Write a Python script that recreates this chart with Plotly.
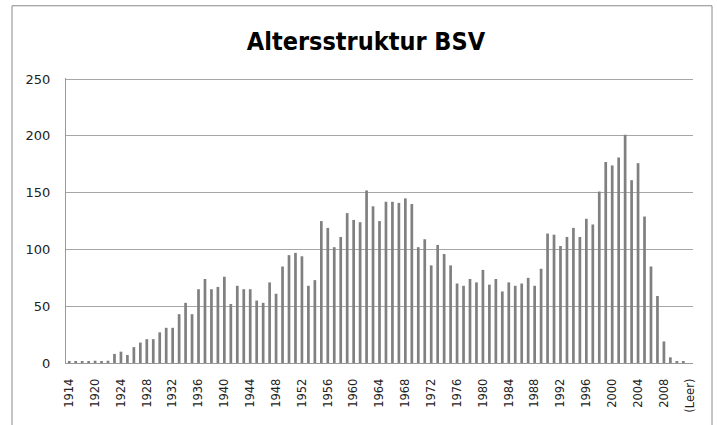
import plotly.graph_objects as go

categories = ["1914", "1915", "1916", "1918"] + [str(y) for y in range(1920, 2012)] + ["(Leer)"]

counts = [
    1, 1, 1, 1,
    2, 1, 2, 8, 10, 7, 14, 18, 21, 21, 27, 31, 31, 43, 53, 43,
    65, 74, 65, 67, 76, 52, 68, 65, 65, 55, 53, 71, 61,
    85, 95, 97, 94, 68, 73, 125, 119, 102, 111, 132, 126, 124, 152, 138, 125,
    142, 142, 141, 145, 140, 102, 109, 86, 104, 96, 86, 70, 68, 74, 71, 82, 69, 74,
    63, 71, 68, 70, 75, 68, 83, 114, 113, 103, 111, 119, 111, 127, 122, 151,
    177, 174, 181, 201, 161, 176, 129, 85, 59, 19, 5, 1, 1,
    0,
]

tick_labels = categories[::4]
y_ticks = [0, 50, 100, 150, 200, 250]

title_text = "Altersstruktur BSV"

fig = go.Figure(
    go.Bar(
        x=categories,
        y=counts,
        marker=dict(color="#808080", line=dict(width=0)),
    )
)

W, H = 717, 425
L, R, T, B = 66, 24, 78, 59
pw = W - L - R
ph = H - T - B

fig.update_layout(
    width=W,
    height=H,
    margin=dict(l=L, r=R, t=T, b=B),
    paper_bgcolor="white",
    plot_bgcolor="white",
    bargap=0.58,
    showlegend=False,
    title=dict(
        text="<b>" + title_text + "</b>",
        font=dict(family="Liberation Sans Narrow, DejaVu Sans Condensed, DejaVu Sans", size=25, color="black"),
        xref="container",
        x=366 / W,
        xanchor="center",
        yref="container",
        y=1 - 41 / H,
        yanchor="middle",
    ),
    xaxis=dict(
        type="category",
        range=[-0.5, len(categories) - 0.5],
        tickmode="array",
        tickvals=tick_labels,
        ticktext=tick_labels,
        tickangle=-90,
        tickfont=dict(family="DejaVu Sans", size=11.5, color="#222"),
        showgrid=False,
        showline=True,
        linecolor="#9a9a9a",
        linewidth=1,
        ticks="",
        ticklabelstandoff=10,
    ),
    yaxis=dict(
        range=[0, 251],
        tickmode="array",
        tickvals=y_ticks,
        tickfont=dict(family="DejaVu Sans", size=13, color="#222"),
        showgrid=True,
        gridcolor="#a6a6a6",
        gridwidth=1,
        showline=True,
        linecolor="#9a9a9a",
        linewidth=1,
        zeroline=False,
        ticks="",
        ticklabelstandoff=12,
    ),
)

# outer chart border
fig.add_shape(
    type="rect",
    xref="paper",
    yref="paper",
    x0=(12 - L) / pw,
    x1=(712 - L) / pw,
    y0=(H - B - 440) / ph,
    y1=(H - B - 5) / ph,
    line=dict(color="#8a8a8a", width=1),
    fillcolor="rgba(0,0,0,0)",
    layer="below",
)

fig.write_html(
    "out.html",
    config={"displayModeBar": False},
    post_script="document.body.style.margin='0px';document.body.style.overflow='hidden';",
)
